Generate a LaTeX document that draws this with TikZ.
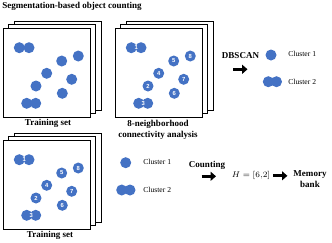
\documentclass[tikz,border=0pt]{standalone}
\usepackage{fontspec}
\setmainfont{Liberation Serif}
\setsansfont{Liberation Sans}
\usetikzlibrary{arrows.meta}
\definecolor{dotblue}{HTML}{4472C4}

\begin{document}
\begin{tikzpicture}[x=0.03cm,y=-0.03cm,line join=miter,
  every node/.style={inner sep=1pt},
  lbl/.style={font=\bfseries\fontsize{7.7}{9.4}\selectfont},
  txt/.style={font=\fontsize{6.5}{8}\selectfont,anchor=west},
  page/.style={draw=black,fill=white,line width=0.8pt},
  blob/.style={circle,fill=dotblue,minimum size=0.33cm,inner sep=0pt,text=white,
    font=\sffamily\bfseries\fontsize{5}{5}\selectfont},
  fat/.style={line width=2.6pt,-{Triangle[length=4.5pt,width=7.5pt]}}]
  \useasboundingbox (0,0) rectangle (332,242);

  % three stacks of pages: x/y of front page, numbered or not
  \foreach \sx/\sy/\num in {3/28/0,115/28/1,3/140/1} {
    \begin{scope}[shift={(\sx,\sy)}]
      \draw[page] (11,-6.3) rectangle ++(87,89);
      \draw[page] (5.5,-3.2) rectangle ++(87,89);
      \draw[page] (0,0) rectangle (87,89);
      \fill[dotblue] (16.3,19.7) circle[radius=5.5] (26,19.7) circle[radius=5.5];
      \fill[dotblue] (23.7,75.3) circle[radius=5.5] (32.7,75.3) circle[radius=5.5];
      \foreach \n/\px/\py in {8/75.3/28,5/58.7/33,4/43.7/45.3,7/68.7/51.3,2/33/58,6/59.3/65.3} {
        \node[blob] (d-\sx-\sy-\n) at (\px,\py) {\ifnum\num=1 \n\fi};
      }
      \ifnum\num=1
        \node[blob,fill=none] (d-\sx-\sy-1) at (21.2,19.7) {1};
        \node[blob,fill=none] (d-\sx-\sy-3) at (28.2,75.3) {3};
      \fi
    \end{scope}
  }

  \node[lbl] (title) at (72,6) {Segmentation-based object counting};
  \node[lbl] (train1) at (48,123) {Training set};
  \node[lbl,align=center] (conn) at (158,129.5) {8-neighborhood\\connectivity analysis};
  \node[lbl] (train2) at (50,235) {Training set};

  % DBSCAN result
  \node[lbl] (dbscan) at (240.5,56) {DBSCAN};
  \coordinate (a1) at (233,69.3);
  \coordinate (a2) at (247.5,69.3);
  \draw[fat] (a1) -- (a2);
  \node[blob] (c1top) at (271,55) {};
  \fill[dotblue] (268.3,81.7) circle[radius=5.5] (276.5,81.7) circle[radius=5.5];
  \node[txt] (cl1top) at (287,53.5) {Cluster 1};
  \node[txt] (cl2top) at (287,81.7) {Cluster 2};

  % connectivity result
  \node[blob] (c1bot) at (125.7,162.7) {};
  \fill[dotblue] (121.7,190) circle[radius=5.5] (130,190) circle[radius=5.5];
  \node[txt] (cl1bot) at (142,162.3) {Cluster 1};
  \node[txt] (cl2bot) at (142,190) {Cluster 2};

  \node[lbl] (count) at (207,165) {Counting};
  \coordinate (b1) at (201.5,176.3);
  \coordinate (b2) at (216,176.3);
  \draw[fat] (b1) -- (b2);
  \node[font=\fontsize{7.5}{9}\selectfont] (hval) at (251,175.8) {$H=[6{,}2]$};
  \node[lbl,align=center,anchor=north] (mem) at (310,169.5) {Memory\\bank};
  \draw[fat,shorten <=1.5pt,shorten >=4pt] (hval.east) -- (hval.east -| mem.west);
\end{tikzpicture}
\end{document}
